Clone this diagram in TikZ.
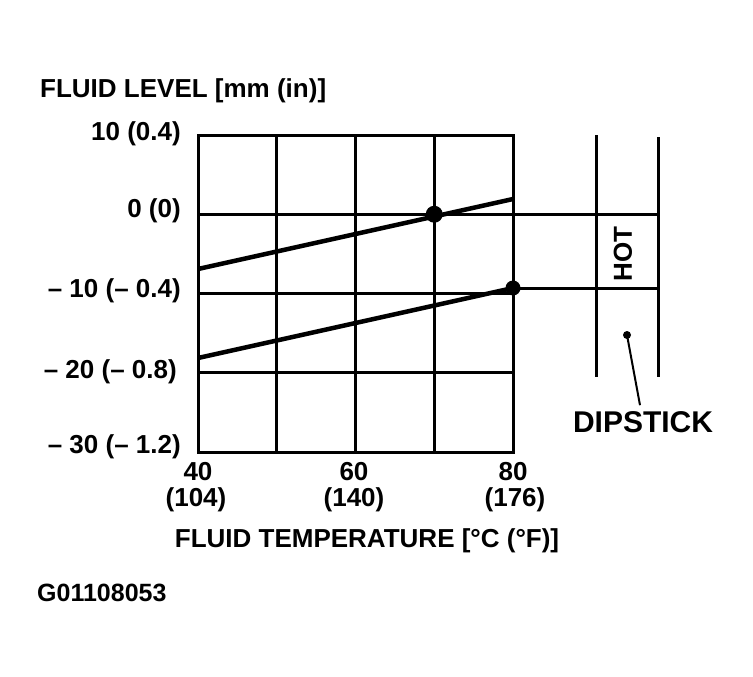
\documentclass[tikz,border=0pt]{standalone}
\usepackage{fontspec}
\setmainfont{Liberation Sans}
\usetikzlibrary{positioning}
\tikzset{
	gridline/.style={line width=3pt},
	levelline/.style={line width=4.5pt},
	tick/.style={font=\fontsize{26}{30}\selectfont\bfseries, inner sep=0pt},
	title/.style={font=\fontsize{26}{32}\selectfont\bfseries, inner sep=0pt}
}

\begin{document}
\begin{tikzpicture}[x=1pt,y=-1pt]
	\useasboundingbox (0,0) rectangle (753,677);
	
	\draw[gridline] (198,135) rectangle (513,452);
	\foreach \x in {276.75,355.5,434.25} \draw[gridline] (\x,135) -- (\x,452);
	\foreach \y in {214.25,293.5,372.75} \draw[gridline] (198,\y) -- (513,\y);
	
	\draw[gridline] (513,214.25) -- (658,214.25);
	\draw[gridline] (513,288) -- (658,288);
	\draw[gridline] (596,135) -- (596,377);
	\draw[gridline] (658,137) -- (658,377);
	\node[tick, rotate=90] (Hot) at (623,254) {HOT};
	
	\coordinate (UpperLeft) at (198,269);
	\coordinate (UpperRight) at (513,199);
	\coordinate (LowerLeft) at (198,358);
	\coordinate (LowerRight) at (513,288);
	\draw[levelline] (UpperLeft) -- (UpperRight);
	\draw[levelline] (LowerLeft) -- (LowerRight);
	\fill (434.25,214.25) circle (8.5pt);
	\fill (LowerRight) circle (7.5pt);
	
	\node[title, anchor=west] (LevelTitle) at (40,91) {FLUID LEVEL [mm (in)]};
	\node[tick, anchor=east] (TenMM) at (181,134) {10 (0.4)};
	\node[tick, anchor=east] (ZeroMM) at (181,211) {0 (0)};
	\node[tick, anchor=east] (MinusTen) at (181,291) {– 10 (– 0.4)};
	\node[tick, anchor=east] (MinusTwenty) at (177,372) {– 20 (– 0.8)};
	\node[tick, anchor=east] (MinusThirty) at (181,447) {– 30 (– 1.2)};
	
	\node[tick] (FortyC) at (198,472) {40};
	\node[tick] (FortyF) at (196,500) {(104)};
	\node[tick] (SixtyC) at (354,472) {60};
	\node[tick] (SixtyF) at (354,500) {(140)};
	\node[tick] (EightyC) at (513,472) {80};
	\node[tick] (EightyF) at (515,500) {(176)};
	\node[title] (TempTitle) at (367,541) {FLUID TEMPERATURE [\textdegree C (\textdegree F)]};
	
	\node[font=\fontsize{30}{36}\selectfont\bfseries, inner sep=0pt] (Dipstick) at (643,422) {DIPSTICK};
	\coordinate (Stick) at (627,335);
	\fill (Stick) circle (4pt);
	\draw[line width=2pt] (Stick) -- ([xshift=-3pt,yshift=6pt]Dipstick.north);
	
	\node[font=\fontsize{25}{30}\selectfont\bfseries, inner sep=0pt, anchor=west] (Code) at (37,593) {G01108053};
\end{tikzpicture}
\end{document}
